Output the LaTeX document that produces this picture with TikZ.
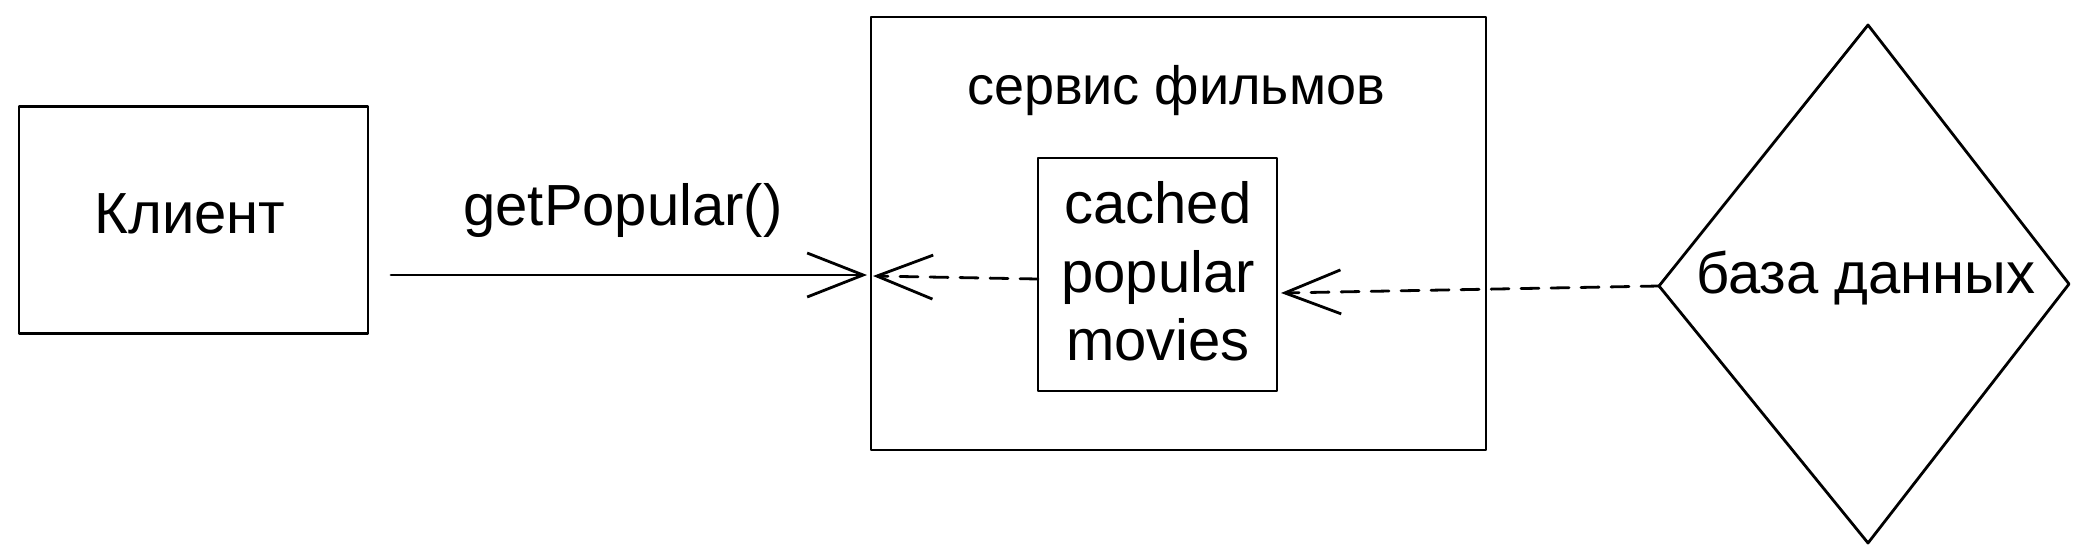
\documentclass[tikz,border=0pt]{standalone}
\usepackage{fontspec}
\setmainfont{Liberation Sans}
\usetikzlibrary{arrows.meta,shapes.geometric}
\tikzset{
  sk/.style={draw=black, line width=2.8pt, line join=round, line cap=round},
  box/.style={sk, rectangle, inner sep=0pt},
  lbl/.style={inner sep=0pt, anchor=base, font=\fontsize{58}{68}\selectfont},
  tip/.style={-{Straight Barb[length=56pt, width=44pt, line width=2.8pt]}},
  dsh/.style={dash pattern=on 18pt off 12pt}
}
\begin{document}
\begin{tikzpicture}[x=1pt,y=-1pt]
\useasboundingbox (0,0) rectangle (2092,557);
% shapes
\node[box, minimum width=349pt, minimum height=227pt] (client) at (193.5,220) {};
\node[box, minimum width=615pt, minimum height=433pt] (service) at (1178.5,233.5) {};
\node[box, minimum width=239pt, minimum height=233pt] (cache) at (1157.5,274.5) {};
\coordinate (dbN) at (1868,25);
\coordinate (dbE) at (2069,284);
\coordinate (dbS) at (1868,543);
\coordinate (dbW) at (1659,286);
\draw[sk] (dbN) -- (dbE) -- (dbS) -- (dbW) -- cycle;
% texts
\node[lbl] (tclient) at (190,233) {Клиент};
\node[lbl] (tcall) at (623,225) {getPopular()};
\node[lbl, font=\fontsize{54}{64}\selectfont] (tservice) at (1176,104) {сервис фильмов};
\node[lbl] (tc1) at (1158,223) {cached};
\node[lbl] (tc2) at (1158,292) {popular};
\node[lbl] (tc3) at (1158,360) {movies};
\node[lbl] (tdb) at (1866,293) {база данных};
% connectors
\coordinate (a1) at (391,275);
\coordinate (a2) at (867,275);
\draw[sk, tip] (a1) -- (a2);
\coordinate (b1) at (1038,279);
\coordinate (b2) at (873,276);
\draw[sk, dsh, tip] (b1) -- (b2);
\coordinate (c2) at (1281,293);
\draw[sk, dsh, tip] (dbW) -- (c2);
\end{tikzpicture}
\end{document}
